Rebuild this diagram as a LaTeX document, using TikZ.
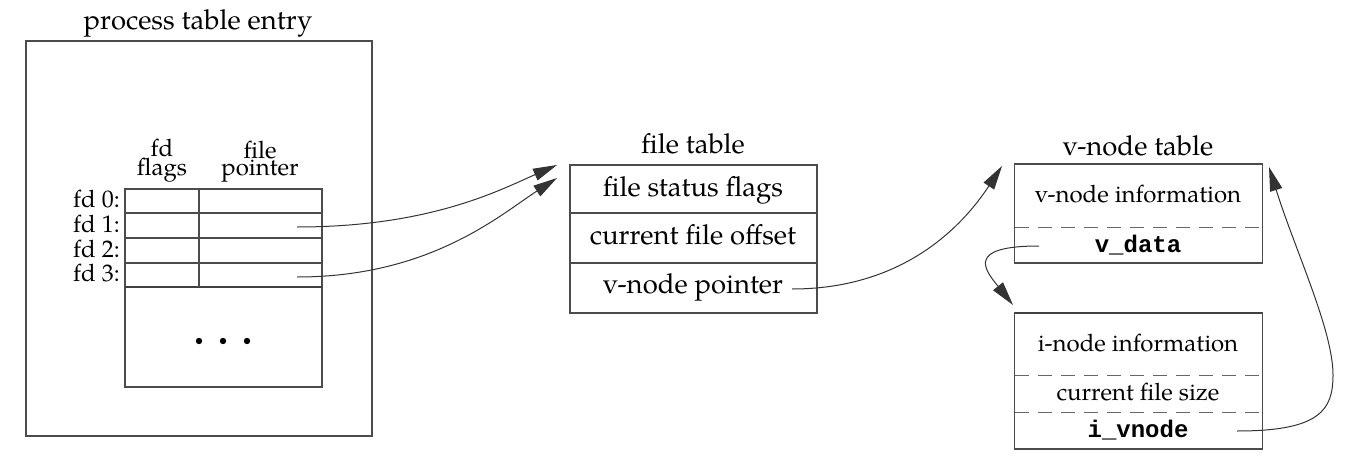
\documentclass[tikz,border=0pt]{standalone}
\usepackage{fontspec}
\setmainfont{TeX Gyre Pagella}
\setmonofont{Liberation Mono}
\usetikzlibrary{arrows.meta}
\begin{document}
\begin{tikzpicture}[x=1pt,y=-1pt,
  ln/.style={line width=1.2pt, draw=black!70},
  boxx/.style={rectangle, ln, inner sep=0pt},
  big/.style={font=\fontsize{27.5}{30}\selectfont, inner sep=0pt, anchor=base},
  small/.style={font=\fontsize{24}{26}\selectfont, inner sep=0pt, anchor=base},
  head/.style={font=\fontsize{24}{17}\selectfont, inner sep=0pt, anchor=base, align=center},
  mono/.style={font=\fontsize{24}{26}\selectfont\ttfamily\bfseries, inner sep=0pt, anchor=base},
  arr/.style={line width=1pt, draw=black!80, -{Triangle[length=24pt,width=12.5pt]}},
  dsh/.style={line width=1pt, draw=black!60, dash pattern=on 14pt off 9pt}]
\useasboundingbox (0,0) rectangle (1356,468);

% process table entry
\node[big] (ptitle) at (198,30) {process table entry};
\node[boxx, minimum width=346pt, minimum height=395pt] (proc) at (199,238.5) {};
\node[boxx, minimum width=197pt, minimum height=198pt] (fdtab) at (223.5,288) {};
\draw[ln] (125,213) -- (322,213);
\draw[ln] (125,238) -- (322,238);
\draw[ln] (125,263) -- (322,263);
\draw[line width=2.2pt, draw=black!75] (125,287) -- (322,287);
\draw[ln] (199,189) -- (199,287);
\node[head] (hflags) at (162,175) {fd\\flags};
\node[head] (hptr) at (260,175) {file\\pointer};
\node[small, anchor=base east] (fd0) at (120,207) {fd 0:};
\node[small, anchor=base east] (fd1) at (120,232) {fd 1:};
\node[small, anchor=base east] (fd2) at (120,257) {fd 2:};
\node[small, anchor=base east] (fd3) at (120,281) {fd 3:};
\fill (199,341) circle (3.2pt);
\fill (223,341) circle (3.2pt);
\fill (247,341) circle (3.2pt);

% file table
\node[big] (ftitle) at (693,153) {file table};
\node[boxx, minimum width=247pt, minimum height=148pt] (ftab) at (693.5,239) {};
\draw[ln] (570,213) -- (817,213);
\draw[ln] (570,263) -- (817,263);
\node[big] (fsf) at (693,196) {file status flags};
\node[big] (cfo) at (693,244) {current file offset};
\node[big] (vnp) at (693,293) {v-node pointer};

% v-node table
\node[big] (vtitle) at (1138,155) {v-node table};
\node[boxx, minimum width=248pt, minimum height=99pt] (vtab) at (1138.5,213.5) {};
\draw[dsh] (1015,227) -- (1262,227);
\node[small] (vinfo) at (1138,202) {v-node information};
\node[mono] (vdata) at (1138,252) {v\_data};

% i-node table
\node[boxx, minimum width=248pt, minimum height=136pt] (itab) at (1138.5,381) {};
\draw[line width=2pt, draw=black!75] (1015,313) -- (1262,313);
\draw[dsh] (1015,375) -- (1262,375);
\draw[dsh] (1015,412) -- (1262,412);
\node[small] (iinfo) at (1138,351) {i-node information};
\node[small] (cfs) at (1138,400) {current file size};
\node[mono] (ivn) at (1138,437) {i\_vnode};

% connector coordinates
\coordinate (s1) at (297,227);
\coordinate (s3) at (297,277);
\coordinate (t1) at (557,165);
\coordinate (t3) at (557,178);
\coordinate (sv) at (792,289);
\coordinate (tv) at (1002,166);
\coordinate (sd) at (1039,246);
\coordinate (td) at (1013,305);
\coordinate (si) at (1237,431);
\coordinate (ti) at (1269,167);

\draw[arr] (s1) .. controls (430,227) and (500,190) .. (t1);
\draw[arr] (s3) .. controls (430,277) and (500,215) .. (t3);
\draw[arr] (sv) .. controls (900,289) and (960,230) .. (tv);
\draw[arr] (sd) .. controls (965,246) and (985,270) .. (td);
\draw[arr] (si) .. controls (1320,431) and (1333,410) .. (1333,375)
  .. controls (1333,330) and (1295,250) .. (ti);
\end{tikzpicture}
\end{document}
